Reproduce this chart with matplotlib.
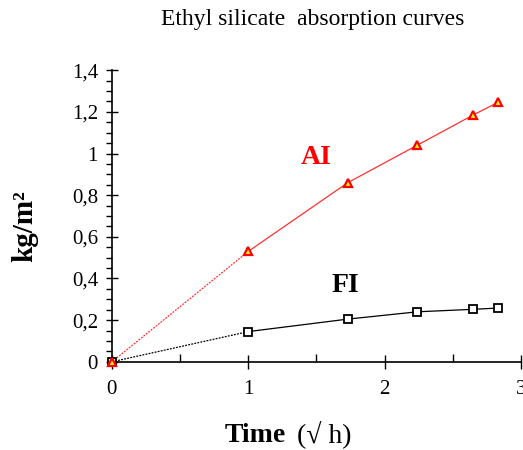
import matplotlib
matplotlib.use('Agg')
import matplotlib.pyplot as plt
from matplotlib.ticker import MultipleLocator, FuncFormatter

# data
ai_x = [0, 1, 1.73, 2.24, 2.65, 2.83]
ai_y = [0, 0.53, 0.86, 1.04, 1.185, 1.245]
fi_x = [0, 1, 1.73, 2.24, 2.65, 2.83]
fi_y = [0, 0.145, 0.205, 0.24, 0.252, 0.258]

plt.rcParams['font.family'] = ['Liberation Serif', 'DejaVu Serif']

fig = plt.figure(figsize=(5.23, 4.5), dpi=100)
ax = fig.add_axes([0.214, 0.196, 0.782, 0.648])

# first segment dotted, rest solid
ax.plot(ai_x[:2], ai_y[:2], color='#ff3030', lw=0.9, ls=(0, (1.5, 1)), zorder=2)
ax.plot(ai_x[1:], ai_y[1:], color='#ff3030', lw=0.9, zorder=2)
ax.plot(fi_x[:2], fi_y[:2], color='black', lw=0.9, ls=(0, (1.5, 1)), zorder=2)
ax.plot(fi_x[1:], fi_y[1:], color='black', lw=0.9, zorder=2)

ax.plot(fi_x, fi_y, ls='none', marker='s', ms=6, mfc='white', mec='black', mew=1.3, zorder=3)
ax.plot(ai_x, ai_y, ls='none', marker='^', ms=6, mfc='yellow', mec='red', mew=1.6, zorder=4)

ax.set_xlim(0, 3)
ax.set_ylim(0, 1.4)
ax.spines['top'].set_visible(False)
ax.spines['right'].set_visible(False)

ax.xaxis.set_major_locator(MultipleLocator(1))
ax.xaxis.set_minor_locator(MultipleLocator(0.5))
ax.yaxis.set_major_locator(MultipleLocator(0.2))
ax.yaxis.set_minor_locator(MultipleLocator(0.05))
ax.yaxis.set_major_formatter(FuncFormatter(lambda v, p: ('%g' % round(v, 2)).replace('.', ',')))

ax.tick_params(axis='x', which='major', direction='inout', length=10, width=1, labelsize=15, pad=8)
ax.tick_params(axis='x', which='minor', direction='in', length=6, width=1)
ax.tick_params(axis='y', which='major', direction='inout', length=8, width=1, labelsize=15, pad=6)
ax.tick_params(axis='y', which='minor', direction='out', length=4, width=1)
for s in ax.spines.values():
    s.set_linewidth(1.2)
for ln in ax.lines:
    ln.set_clip_on(False)

fig.text(0.597, 0.956, 'Ethyl silicate  absorption curves', ha='center', va='center', fontsize=17)
fig.text(0.547, 0.017, 'Time', ha='right', va='baseline', fontsize=20, fontweight='bold')
fig.text(0.568, 0.017, '(\u221a h)', ha='left', va='baseline', fontsize=20)
fig.text(0.048, 0.497, 'kg/m\u00b2', ha='center', va='center', fontsize=21,
         fontweight='bold', rotation=90)

ax.text(1.50, 0.983, 'AI', color='red', fontsize=20, fontweight='bold', ha='center', va='center')
ax.text(1.71, 0.364, 'FI', color='black', fontsize=20, fontweight='bold', ha='center', va='center')

fig.savefig('out.png', dpi=100)
